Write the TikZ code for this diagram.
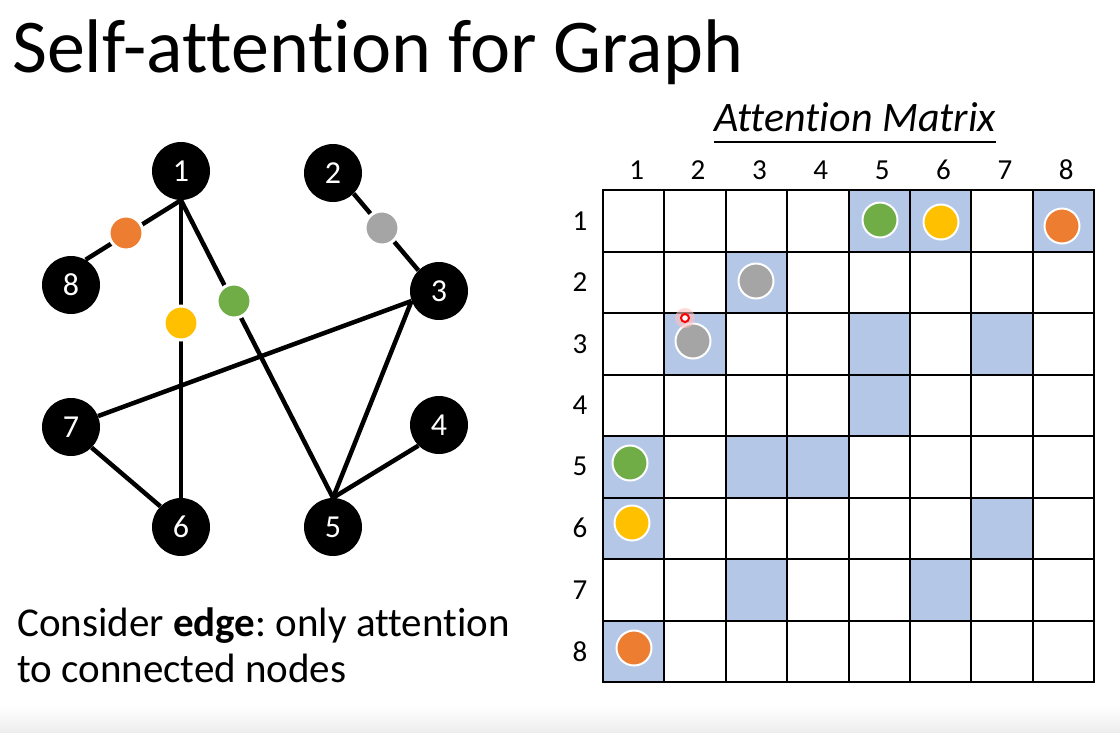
\documentclass[tikz,border=0pt]{standalone}
\usepackage{fontspec}
\setmainfont[Ligatures={NoCommon}]{Carlito}
\definecolor{dotorange}{HTML}{ED7D31}
\definecolor{dotyellow}{HTML}{FFC000}
\definecolor{dotgreen}{HTML}{70AD47}
\definecolor{dotgray}{HTML}{A5A5A5}
\definecolor{cellblue}{HTML}{B4C7E7}
\frenchspacing
\begin{document}
\begin{tikzpicture}[x=1pt,y=-1pt,
  gnode/.style={circle,fill=black,minimum size=58pt,inner sep=0pt,text=white,font=\fontsize{32}{34}\selectfont},
  edgeline/.style={line width=4.5pt},
  gdot/.style={circle,minimum size=34pt,inner sep=0pt,draw=white,line width=3pt},
  mdot/.style={circle,minimum size=35pt,inner sep=0pt,draw=white,line width=2pt},
  lab/.style={inner sep=0pt,font=\fontsize{29}{31}\selectfont},
  gridline/.style={line width=2pt,line cap=rect},
  txt/.style={anchor=base west,inner sep=0pt}]
\useasboundingbox (0,0) rectangle (1120,732);
\fill[white] (0,0) rectangle (1120,732);
\shade[top color=white,bottom color=black!7] (0,706) rectangle (1120,732);

% title
\node[txt,font=\fontsize{76}{84}\selectfont] (title) at (12,72) {Self-attention for Graph};

% graph nodes
\node[gnode] (n1) at (181,171) {1};
\node[gnode] (n2) at (333,173) {2};
\node[gnode] (n3) at (439,291) {3};
\node[gnode] (n4) at (439,425) {4};
\node[gnode] (n5) at (333,527) {5};
\node[gnode] (n6) at (181,527) {6};
\node[gnode] (n7) at (71,427) {7};
\node[gnode] (n8) at (71,285) {8};

% edges
\draw[edgeline] (n1.south) -- (n8.60);
\draw[edgeline] (n1.south) -- (n6.north);
\draw[edgeline] (n1.south) -- (n5.north);
\draw[edgeline] (n2.south east) -- (n3.north west);
\draw[edgeline] (n3.200) -- (n7.22);
\draw[edgeline] (n3.200) -- (n5.north);
\draw[edgeline] (n4.225) -- (n5.north);
\draw[edgeline] (n7.south east) -- (n6.north west);

% edge dots
\node[gdot,fill=dotorange] (e18) at (126,233) {};
\node[gdot,fill=dotyellow] (e16) at (181,323) {};
\node[gdot,fill=dotgreen] (e15) at (234,301) {};
\node[gdot,fill=dotgray] (e23) at (382,228) {};

% note
\node[txt,font=\fontsize{41}{46}\selectfont] (note1) at (17,636) {Consider \textbf{edge}: only attention};
\node[txt,font=\fontsize{41}{46}\selectfont] (note2) at (17,682) {to connected nodes};

% attention matrix title
\node[font=\fontsize{42}{46}\selectfont\itshape,anchor=base,inner sep=0pt] (amt) at (855,131) {Attention Matrix};
\draw[line width=2pt] ([yshift=-11pt]amt.base west) -- ([yshift=-11pt]amt.base east);

% shaded cells
\foreach \r/\c in {1/5,1/6,1/8,2/3,3/2,3/5,3/7,4/5,5/1,5/3,5/4,6/1,6/7,7/3,7/6,8/1}
  \fill[cellblue] ({603+(\c-1)*61.375},{190+(\r-1)*61.5}) rectangle +(61.375,61.5);

% grid
\foreach \i in {0,...,8} {
  \draw[gridline] ({603+\i*61.375},190) -- ({603+\i*61.375},682);
  \draw[gridline] (603,{190+\i*61.5}) -- (1094,{190+\i*61.5});
}

% labels
\foreach \i in {1,...,8} {
  \node[lab] (col\i) at ({603+(\i-0.5)*61.375+3},170) {\i};
  \node[lab] (row\i) at (580,{190+(\i-0.5)*61.5}) {\i};
}

% matrix dots
\node[mdot,fill=dotgreen] (m15) at (880,220) {};
\node[mdot,fill=dotyellow] (m16) at (941,222) {};
\node[mdot,fill=dotorange] (m18) at (1062,226) {};
\node[mdot,fill=dotgray] (m23) at (756,281) {};
\node[mdot,fill=dotgray] (m32) at (693,341) {};
\node[mdot,fill=dotgreen] (m51) at (630,463) {};
\node[mdot,fill=dotyellow] (m61) at (632,523) {};
\node[mdot,fill=dotorange] (m81) at (634,648) {};

% pointer
\fill[red!25,opacity=0.6] (685,318) circle (10);
\node[circle,draw=red,fill=white,line width=2pt,minimum size=8pt,inner sep=0pt] (ptr) at (685,318) {};
\end{tikzpicture}
\end{document}
